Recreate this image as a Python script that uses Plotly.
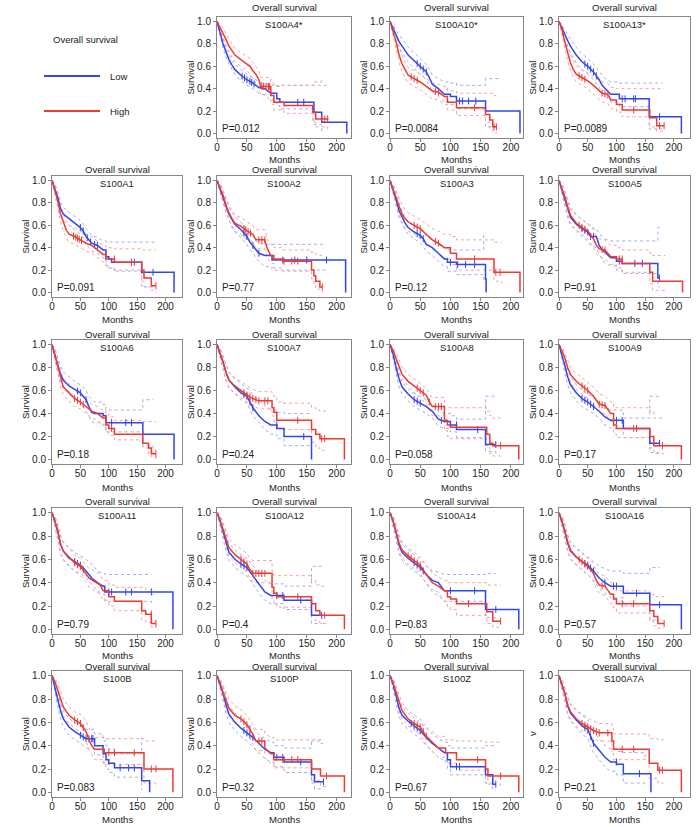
import plotly.graph_objects as go

# ---------------- data (months, survival, upper CI, lower CI) ----------------
S100A4_LOW = [(0,1,1,1),(3,.95,.97,.93),(6,.88,.91,.85),(10,.80,.84,.76),(15,.72,.76,.68),(20,.66,.70,.62),(25,.61,.65,.57),(30,.57,.62,.53),(40,.52,.57,.47),(50,.48,.53,.43),(60,.45,.50,.40),(70,.41,.46,.36),(80,.40,.45,.34),(90,.36,.43,.30),(100,.31,.42,.25),(105,.28,.43,.22),(162,.19,.46,.08),(175,.10,.48,.02),(177,.10,.48,.02),(217,0,None,None)]
S100A4_HIGH = [(0,1,1,1),(5,.95,.98,.92),(10,.90,.94,.86),(15,.84,.89,.79),(20,.78,.84,.73),(25,.74,.80,.68),(30,.70,.76,.64),(40,.66,.72,.60),(50,.62,.69,.56),(55,.60,.67,.53),(60,.56,.63,.49),(65,.53,.60,.46),(70,.48,.56,.41),(73,.42,.50,.35),(90,.34,.45,.26),(95,.28,.43,.21),(112,.25,.43,.18),(160,.19,.43,.10),(165,.13,.43,.06),(185,.12,.43,.04)]
S100A4_LOW_CENS = [42,46,50,55,58,62,135,145]
S100A4_HIGH_CENS = [75,78,82,86,88,175,180,185]

S100A10_LOW = [(0,1,1,1),(5,.94,.97,.91),(10,.87,.92,.82),(15,.82,.88,.77),(20,.78,.84,.72),(25,.74,.80,.68),(30,.70,.77,.64),(40,.65,.72,.58),(50,.60,.67,.53),(60,.55,.62,.48),(65,.50,.58,.43),(70,.44,.52,.37),(80,.40,.49,.33),(90,.35,.46,.28),(100,.33,.45,.26),(110,.29,.43,.22),(158,.20,.49,.06),(180,.20,.49,.04),(215,0,None,None)]
S100A10_HIGH = [(0,1,1,1),(5,.92,.97,.87),(10,.82,.88,.76),(15,.70,.78,.63),(20,.62,.69,.55),(25,.57,.64,.50),(30,.52,.59,.45),(40,.49,.56,.42),(50,.46,.53,.39),(60,.42,.49,.35),(70,.38,.45,.31),(80,.37,.44,.30),(90,.33,.42,.26),(95,.28,.38,.21),(110,.23,.36,.16),(158,.17,.36,.10),(165,.12,.36,.05),(170,.06,.34,.01),(176,.06,.34,0)]
S100A10_LOW_CENS = [45,50,55,60,115,120,130,142]
S100A10_HIGH_CENS = [35,40,45,75,80,140,172,176]

S100A13_LOW = [(0,1,1,1),(5,.94,.97,.91),(10,.88,.93,.83),(15,.83,.88,.77),(20,.78,.84,.72),(25,.74,.80,.67),(30,.70,.77,.63),(40,.64,.71,.57),(50,.60,.67,.53),(60,.55,.62,.48),(70,.48,.56,.41),(75,.43,.52,.36),(80,.40,.49,.33),(90,.35,.46,.28),(105,.31,.45,.24),(157,.15,.45,.04),(180,.15,.45,.04),(213,0,None,None)]
S100A13_HIGH = [(0,1,1,1),(5,.93,.97,.88),(10,.82,.88,.76),(15,.72,.78,.65),(20,.63,.70,.56),(25,.57,.64,.50),(30,.53,.60,.46),(40,.50,.57,.43),(50,.47,.54,.40),(60,.43,.51,.35),(70,.38,.47,.30),(75,.36,.46,.28),(85,.35,.45,.27),(90,.30,.41,.22),(100,.26,.40,.19),(110,.21,.40,.15),(158,.14,.40,.06),(170,.07,.40,.02),(183,.07,.40,0)]
S100A13_LOW_CENS = [45,50,55,60,65,110,115,130,133,175]
S100A13_HIGH_CENS = [35,40,45,75,80,85,130,175,183]

S100A1_LOW = [(0,1,1,1),(5,.93,.97,.89),(10,.85,.90,.80),(15,.75,.81,.69),(20,.70,.76,.64),(30,.66,.72,.60),(40,.62,.68,.56),(50,.58,.64,.52),(55,.55,.61,.49),(60,.50,.57,.43),(70,.44,.51,.37),(80,.42,.49,.35),(90,.38,.46,.31),(95,.32,.45,.24),(100,.30,.45,.22),(105,.27,.45,.20),(158,.18,.45,.05),(180,.18,.46,.04),(215,0,None,None)]
S100A1_HIGH = [(0,1,1,1),(5,.92,.96,.88),(10,.82,.88,.76),(15,.70,.77,.63),(20,.62,.70,.55),(25,.56,.64,.49),(30,.52,.60,.45),(40,.50,.58,.43),(50,.47,.55,.40),(60,.44,.52,.37),(70,.42,.50,.35),(80,.38,.46,.31),(90,.34,.42,.27),(95,.30,.40,.22),(110,.27,.39,.19),(158,.20,.38,.10),(162,.13,.38,.05),(175,.06,.38,.02),(183,.06,.38,0)]
S100A1_LOW_CENS = [50,55,62,68,75,80,140,145,178]
S100A1_HIGH_CENS = [38,42,45,48,52,110,140,183]

S100A2_LOW = [(0,1,1,1),(5,.93,.97,.89),(10,.85,.90,.80),(15,.77,.82,.72),(20,.70,.76,.65),(25,.65,.72,.58),(30,.61,.68,.54),(40,.56,.63,.49),(50,.50,.57,.43),(55,.45,.53,.38),(60,.42,.50,.35),(65,.38,.46,.31),(70,.35,.44,.28),(80,.33,.43,.23),(92,.29,.43,.20),(183,.29,.43,.20),(215,0,None,None)]
S100A2_HIGH = [(0,1,1,1),(5,.94,.98,.90),(10,.87,.92,.82),(15,.78,.84,.72),(20,.71,.78,.64),(25,.66,.73,.59),(30,.62,.69,.55),(40,.59,.67,.52),(50,.55,.63,.48),(60,.52,.60,.45),(65,.47,.56,.39),(80,.46,.55,.37),(85,.38,.47,.30),(90,.33,.43,.26),(95,.30,.40,.22),(110,.28,.38,.19),(158,.20,.36,.12),(162,.15,.35,.07),(165,.10,.34,.03),(172,.05,.33,.01),(176,.05,.33,0)]
S100A2_LOW_CENS = [45,50,60,70,110,130,150,183]
S100A2_HIGH_CENS = [45,48,52,56,70,75,80,112,125,135,176]

S100A3_LOW = [(0,1,1,1),(5,.92,.96,.88),(10,.83,.88,.78),(15,.73,.79,.67),(20,.67,.72,.61),(25,.62,.67,.56),(30,.58,.63,.52),(40,.54,.59,.48),(50,.51,.56,.44),(55,.48,.54,.41),(60,.43,.50,.37),(70,.40,.47,.33),(80,.35,.43,.28),(90,.30,.40,.23),(95,.27,.38,.19),(110,.25,.38,.16),(155,.25,.52,.12),(158,.12,.52,.03),(159,0,None,None)]
S100A3_HIGH = [(0,1,1,1),(5,.93,.97,.88),(10,.85,.91,.79),(15,.77,.84,.70),(20,.70,.78,.63),(25,.66,.74,.58),(30,.63,.71,.55),(40,.60,.68,.52),(50,.57,.65,.49),(60,.52,.61,.44),(70,.47,.57,.39),(80,.44,.55,.35),(90,.40,.52,.30),(100,.35,.50,.25),(110,.30,.47,.20),(172,.18,.45,.10),(185,.18,.45,.08),(215,0,None,None)]
S100A3_LOW_CENS = [45,50,55,100,112,125,140]
S100A3_HIGH_CENS = [40,45,50,75,80,140,175,182]

S100A5_LOW = [(0,1,1,1),(5,.92,.97,.87),(10,.84,.90,.77),(15,.74,.81,.67),(20,.67,.74,.60),(30,.61,.70,.55),(40,.57,.65,.50),(50,.54,.62,.46),(55,.50,.58,.42),(65,.50,.57,.40),(70,.42,.52,.34),(75,.38,.50,.30),(80,.36,.48,.26),(90,.31,.46,.24),(100,.28,.46,.20),(110,.26,.46,.17),(172,.13,.58,.05),(175,.13,.58,.05)]
S100A5_HIGH = [(0,1,1,1),(5,.93,.97,.89),(10,.86,.91,.80),(15,.77,.83,.70),(20,.69,.76,.62),(30,.62,.69,.56),(40,.58,.65,.52),(50,.55,.62,.48),(60,.48,.56,.40),(65,.42,.50,.35),(70,.39,.48,.32),(80,.38,.47,.30),(90,.32,.42,.25),(100,.30,.40,.22),(110,.26,.38,.18),(158,.18,.35,.08),(163,.10,.33,.02),(185,.10,.33,.02),(215,0,None,None)]
S100A5_LOW_CENS = [40,45,50,55,60,105,132,145,175]
S100A5_HIGH_CENS = [35,40,45,75,80,105,110]

S100A6_LOW = [(0,1,1,1),(5,.92,.97,.88),(10,.83,.89,.77),(15,.74,.81,.68),(20,.69,.76,.62),(30,.64,.72,.57),(40,.61,.68,.53),(50,.58,.65,.50),(55,.55,.62,.46),(60,.52,.60,.43),(65,.46,.55,.38),(70,.41,.52,.33),(75,.40,.50,.32),(90,.38,.48,.28),(95,.32,.43,.24),(160,.22,.52,.12),(178,.22,.52,.05),(215,0,None,None)]
S100A6_HIGH = [(0,1,1,1),(5,.91,.96,.86),(10,.82,.88,.76),(15,.71,.78,.64),(20,.63,.71,.56),(30,.58,.65,.51),(40,.53,.60,.46),(50,.50,.56,.44),(60,.46,.52,.40),(70,.42,.48,.36),(80,.40,.46,.34),(90,.36,.43,.30),(95,.30,.40,.24),(100,.27,.37,.21),(110,.22,.34,.17),(160,.14,.33,.10),(170,.10,.33,.05),(175,.05,.33,.02),(183,.05,.33,0)]
S100A6_LOW_CENS = [45,50,60,105,130,140]
S100A6_HIGH_CENS = [40,45,50,55,95,105,183]

S100A7_LOW = [(0,1,1,1),(5,.93,.97,.88),(10,.85,.90,.79),(15,.76,.82,.69),(20,.69,.76,.62),(30,.63,.70,.57),(40,.58,.66,.52),(50,.55,.62,.49),(55,.50,.60,.44),(60,.45,.56,.38),(70,.38,.52,.32),(80,.33,.47,.26),(90,.30,.43,.22),(100,.27,.41,.18),(112,.20,.40,.12),(155,.20,.38,.10),(158,0,None,None)]
S100A7_HIGH = [(0,1,1,1),(5,.93,.97,.88),(10,.85,.90,.79),(15,.76,.82,.69),(20,.69,.76,.62),(30,.64,.71,.58),(40,.60,.68,.54),(50,.56,.64,.50),(60,.53,.61,.47),(70,.51,.59,.44),(92,.45,.57,.38),(95,.41,.55,.33),(100,.34,.50,.27),(110,.34,.49,.26),(158,.26,.45,.15),(165,.22,.43,.10),(172,.18,.42,.08),(182,.18,.42,.08),(213,0,None,None)]
S100A7_LOW_CENS = [45,50,55,60,100,145]
S100A7_HIGH_CENS = [45,50,55,60,65,70,80,85,135,175,180]

S100A8_LOW = [(0,1,1,1),(5,.92,.96,.87),(10,.80,.86,.74),(15,.70,.76,.63),(20,.63,.70,.57),(30,.57,.64,.51),(40,.52,.58,.46),(50,.49,.55,.43),(60,.46,.52,.40),(70,.42,.48,.36),(80,.35,.42,.29),(90,.33,.40,.27),(100,.30,.38,.24),(110,.26,.35,.19),(158,.13,.55,.07),(175,.13,.55,.05)]
S100A8_HIGH = [(0,1,1,1),(5,.95,.98,.91),(10,.88,.93,.82),(15,.80,.86,.74),(20,.74,.80,.67),(30,.68,.74,.61),(40,.64,.70,.57),(50,.60,.66,.53),(60,.56,.62,.49),(65,.50,.57,.43),(70,.46,.54,.38),(90,.34,.45,.25),(95,.30,.45,.20),(100,.28,.45,.18),(160,.22,.42,.12),(165,.14,.38,.05),(170,.12,.36,.03),(183,.12,.36,.03),(213,0,None,None)]
S100A8_LOW_CENS = [40,45,50,85,110,145,175]
S100A8_HIGH_CENS = [45,50,55,65,75,80,85,183]

S100A9_LOW = [(0,1,1,1),(5,.92,.96,.87),(10,.82,.88,.76),(15,.72,.78,.65),(20,.65,.72,.58),(30,.58,.65,.51),(40,.53,.60,.46),(50,.50,.57,.43),(60,.46,.54,.40),(70,.42,.50,.36),(80,.37,.46,.30),(90,.34,.43,.27),(112,.27,.36,.19),(158,.14,.55,.06),(175,.14,.55,.05)]
S100A9_HIGH = [(0,1,1,1),(5,.95,.98,.91),(10,.89,.93,.84),(15,.80,.86,.74),(20,.74,.80,.67),(30,.68,.75,.61),(40,.64,.71,.57),(50,.60,.67,.53),(60,.55,.63,.48),(70,.48,.57,.41),(80,.47,.55,.40),(90,.40,.50,.33),(95,.30,.45,.22),(100,.27,.45,.19),(158,.20,.42,.10),(165,.12,.36,.05),(183,.12,.36,.05),(213,0,None,None)]
S100A9_LOW_CENS = [40,45,50,55,60,100,110,135,175]
S100A9_HIGH_CENS = [40,45,50,70,75,80,130,135,180]

S100A11_LOW = [(0,1,1,1),(5,.93,.97,.88),(10,.84,.90,.78),(15,.73,.80,.66),(20,.67,.75,.59),(30,.61,.70,.54),(40,.58,.66,.50),(50,.55,.63,.48),(60,.50,.60,.44),(70,.44,.56,.38),(80,.40,.50,.33),(90,.37,.48,.30),(93,.32,.47,.24),(175,.32,.47,.22),(213,0,None,None)]
S100A11_HIGH = [(0,1,1,1),(5,.93,.97,.88),(10,.85,.90,.78),(15,.73,.80,.66),(20,.67,.74,.60),(30,.62,.69,.55),(40,.57,.64,.50),(50,.54,.61,.46),(60,.48,.55,.41),(65,.44,.52,.36),(75,.41,.50,.33),(85,.38,.47,.30),(90,.33,.42,.25),(100,.28,.38,.20),(110,.24,.36,.16),(158,.16,.36,.08),(165,.13,.32,.06),(175,.05,.30,.02),(183,.05,.30,.01)]
S100A11_LOW_CENS = [40,45,50,100,105,130,140,175]
S100A11_HIGH_CENS = [40,45,50,55,175,183]

S100A12_LOW = [(0,1,1,1),(5,.93,.97,.88),(10,.84,.90,.78),(15,.74,.81,.67),(20,.66,.74,.59),(30,.60,.68,.53),(40,.56,.64,.49),(50,.53,.61,.46),(60,.46,.55,.39),(70,.38,.48,.31),(80,.32,.42,.25),(90,.29,.39,.22),(112,.25,.37,.17),(158,.12,.54,.05),(175,.12,.54,.05)]
S100A12_HIGH = [(0,1,1,1),(5,.94,.98,.90),(10,.86,.92,.80),(15,.78,.85,.71),(20,.70,.78,.63),(30,.64,.72,.57),(40,.60,.69,.53),(50,.56,.65,.49),(55,.51,.61,.44),(60,.48,.59,.40),(92,.36,.50,.26),(95,.31,.46,.21),(100,.28,.46,.19),(158,.22,.42,.12),(165,.16,.38,.07),(172,.12,.37,.05),(183,.12,.37,.05),(213,0,None,None)]
S100A12_LOW_CENS = [40,45,50,100,110,140,175]
S100A12_HIGH_CENS = [40,45,50,60,65,70,75,80,135,180]

S100A14_LOW = [(0,1,1,1),(5,.93,.97,.88),(10,.83,.89,.77),(15,.72,.79,.65),(20,.66,.73,.59),(30,.61,.68,.54),(40,.57,.64,.50),(50,.53,.60,.46),(60,.47,.54,.40),(70,.42,.50,.34),(80,.40,.49,.32),(90,.33,.47,.24),(158,.17,.48,.10),(175,.17,.48,.08),(213,0,None,None)]
S100A14_HIGH = [(0,1,1,1),(5,.93,.97,.88),(10,.84,.90,.77),(15,.74,.81,.67),(20,.68,.75,.61),(30,.63,.70,.56),(40,.59,.66,.52),(50,.55,.62,.48),(60,.47,.55,.39),(70,.40,.48,.32),(80,.37,.45,.29),(90,.33,.42,.24),(95,.28,.40,.19),(100,.26,.40,.17),(110,.22,.40,.12),(160,.15,.38,.05),(170,.07,.38,.02),(183,.07,.38,.02)]
S100A14_LOW_CENS = [40,45,50,55,100,140,175]
S100A14_HIGH_CENS = [30,35,40,45,50,130,183]

S100A16_LOW = [(0,1,1,1),(5,.93,.97,.88),(10,.84,.90,.77),(15,.74,.80,.67),(20,.67,.74,.60),(30,.62,.70,.55),(40,.58,.66,.51),(50,.55,.62,.47),(60,.50,.58,.42),(70,.44,.54,.35),(80,.40,.52,.31),(90,.37,.50,.27),(112,.31,.48,.20),(158,.21,.53,.08),(175,.21,.53,.08),(213,0,None,None)]
S100A16_HIGH = [(0,1,1,1),(5,.93,.97,.88),(10,.85,.90,.78),(15,.75,.81,.68),(20,.68,.74,.61),(30,.62,.69,.56),(40,.58,.65,.51),(50,.54,.61,.47),(60,.48,.56,.41),(65,.42,.50,.35),(70,.38,.47,.31),(80,.37,.46,.29),(90,.30,.40,.22),(95,.26,.36,.18),(100,.22,.33,.14),(158,.16,.30,.07),(165,.11,.28,.03),(172,.05,.28,.01),(183,.05,.28,.01)]
S100A16_LOW_CENS = [45,50,55,60,80,95,100,135,175]
S100A16_HIGH_CENS = [35,40,45,50,75,110,130,183]

S100B_LOW = [(0,1,1,1),(5,.91,.96,.86),(10,.80,.86,.74),(15,.70,.76,.63),(20,.63,.70,.56),(30,.56,.63,.49),(40,.52,.60,.45),(50,.49,.57,.42),(60,.46,.54,.38),(75,.40,.50,.32),(90,.33,.44,.25),(95,.28,.40,.20),(100,.25,.37,.17),(110,.21,.33,.13),(158,.10,.47,.02),(172,0,None,None)]
S100B_HIGH = [(0,1,1,1),(5,.95,.98,.91),(10,.88,.93,.82),(15,.80,.86,.73),(20,.73,.80,.65),(30,.66,.73,.59),(40,.62,.69,.55),(50,.59,.67,.52),(60,.52,.61,.44),(65,.45,.55,.37),(70,.40,.50,.32),(75,.37,.47,.28),(92,.34,.46,.24),(162,.20,.44,.08),(183,.20,.44,.05),(213,0,None,None)]
S100B_LOW_CENS = [50,55,60,65,70,72,120,135,145]
S100B_HIGH_CENS = [40,45,50,55,100,110,145,175,183]

S100P_LOW = [(0,1,1,1),(5,.93,.97,.89),(10,.85,.90,.79),(15,.75,.81,.68),(20,.67,.74,.60),(30,.60,.68,.53),(40,.55,.63,.48),(50,.51,.59,.44),(60,.47,.55,.39),(70,.42,.50,.34),(80,.37,.46,.29),(90,.34,.43,.26),(95,.30,.40,.22),(112,.26,.38,.17),(158,.15,.45,.08),(163,.09,.45,.03),(178,.09,.45,.03)]
S100P_HIGH = [(0,1,1,1),(5,.94,.98,.90),(10,.86,.92,.81),(15,.78,.85,.71),(20,.72,.79,.65),(30,.66,.74,.59),(40,.63,.71,.55),(50,.58,.66,.50),(60,.50,.58,.42),(65,.44,.54,.36),(80,.38,.50,.30),(90,.33,.47,.25),(95,.28,.45,.21),(158,.20,.44,.10),(173,.14,.42,.05),(183,.14,.42,.05),(213,0,None,None)]
S100P_LOW_CENS = [45,50,55,60,100,110,140,178]
S100P_HIGH_CENS = [40,45,50,55,70,75,110,125,135,183]

S100Z_LOW = [(0,1,1,1),(5,.93,.97,.88),(10,.83,.89,.77),(15,.72,.79,.65),(20,.66,.73,.59),(30,.61,.68,.54),(40,.57,.64,.50),(50,.53,.60,.46),(60,.47,.55,.40),(70,.42,.50,.35),(80,.38,.46,.30),(90,.34,.43,.27),(95,.28,.40,.20),(100,.22,.38,.15),(158,.15,.40,.08),(170,.07,.40,.02),(175,.07,.40,.02)]
S100Z_HIGH = [(0,1,1,1),(5,.94,.98,.89),(10,.86,.91,.80),(15,.77,.83,.70),(20,.70,.77,.63),(30,.63,.70,.57),(40,.59,.66,.53),(50,.56,.63,.50),(60,.48,.56,.41),(70,.43,.52,.35),(80,.38,.48,.30),(92,.34,.45,.25),(110,.28,.44,.19),(158,.20,.43,.12),(162,.14,.43,.07),(183,.14,.43,.05),(213,0,None,None)]
S100Z_LOW_CENS = [35,40,45,50,110,115,175]
S100Z_HIGH_CENS = [40,45,50,55,60,145,183]

S100A7A_LOW = [(0,1,1,1),(5,.93,.97,.88),(10,.85,.90,.79),(15,.74,.81,.67),(20,.68,.75,.61),(30,.62,.70,.55),(40,.57,.66,.50),(50,.54,.62,.46),(55,.48,.57,.40),(60,.42,.52,.34),(70,.36,.46,.28),(80,.30,.40,.22),(90,.26,.37,.18),(100,.24,.35,.15),(112,.16,.34,.08),(150,.16,.30,.05),(160,0,None,None)]
S100A7A_HIGH = [(0,1,1,1),(5,.93,.97,.88),(10,.85,.90,.79),(15,.75,.82,.68),(20,.69,.76,.62),(30,.63,.71,.57),(40,.59,.67,.53),(50,.56,.64,.50),(60,.53,.61,.46),(70,.51,.59,.44),(92,.44,.55,.34),(95,.37,.50,.28),(157,.25,.46,.12),(172,.19,.45,.08),(182,.19,.45,.08),(213,0,None,None)]
S100A7A_LOW_CENS = [45,50,55,60,100,140]
S100A7A_HIGH_CENS = [40,45,50,55,60,65,70,85,110,130,175,180]

# panel list: (row, col, label, p-value text, y-axis label, low, high, low censored, high censored)
PANELS = [
    (0, 1, "S100A4*", "0.012", "Survival", S100A4_LOW, S100A4_HIGH, S100A4_LOW_CENS, S100A4_HIGH_CENS),
    (0, 2, "S100A10*", "0.0084", "Survival", S100A10_LOW, S100A10_HIGH, S100A10_LOW_CENS, S100A10_HIGH_CENS),
    (0, 3, "S100A13*", "0.0089", "Survival", S100A13_LOW, S100A13_HIGH, S100A13_LOW_CENS, S100A13_HIGH_CENS),
    (1, 0, "S100A1", "0.091", "Survival", S100A1_LOW, S100A1_HIGH, S100A1_LOW_CENS, S100A1_HIGH_CENS),
    (1, 1, "S100A2", "0.77", "Survival", S100A2_LOW, S100A2_HIGH, S100A2_LOW_CENS, S100A2_HIGH_CENS),
    (1, 2, "S100A3", "0.12", "Survival", S100A3_LOW, S100A3_HIGH, S100A3_LOW_CENS, S100A3_HIGH_CENS),
    (1, 3, "S100A5", "0.91", "Survival", S100A5_LOW, S100A5_HIGH, S100A5_LOW_CENS, S100A5_HIGH_CENS),
    (2, 0, "S100A6", "0.18", "Survival", S100A6_LOW, S100A6_HIGH, S100A6_LOW_CENS, S100A6_HIGH_CENS),
    (2, 1, "S100A7", "0.24", "Survival", S100A7_LOW, S100A7_HIGH, S100A7_LOW_CENS, S100A7_HIGH_CENS),
    (2, 2, "S100A8", "0.058", "Survival", S100A8_LOW, S100A8_HIGH, S100A8_LOW_CENS, S100A8_HIGH_CENS),
    (2, 3, "S100A9", "0.17", "Survival", S100A9_LOW, S100A9_HIGH, S100A9_LOW_CENS, S100A9_HIGH_CENS),
    (3, 0, "S100A11", "0.79", "Survival", S100A11_LOW, S100A11_HIGH, S100A11_LOW_CENS, S100A11_HIGH_CENS),
    (3, 1, "S100A12", "0.4", "Survival", S100A12_LOW, S100A12_HIGH, S100A12_LOW_CENS, S100A12_HIGH_CENS),
    (3, 2, "S100A14", "0.83", "Survival", S100A14_LOW, S100A14_HIGH, S100A14_LOW_CENS, S100A14_HIGH_CENS),
    (3, 3, "S100A16", "0.57", "Survival", S100A16_LOW, S100A16_HIGH, S100A16_LOW_CENS, S100A16_HIGH_CENS),
    (4, 0, "S100B", "0.083", "Survival", S100B_LOW, S100B_HIGH, S100B_LOW_CENS, S100B_HIGH_CENS),
    (4, 1, "S100P", "0.32", "Survival", S100P_LOW, S100P_HIGH, S100P_LOW_CENS, S100P_HIGH_CENS),
    (4, 2, "S100Z", "0.67", "Survival", S100Z_LOW, S100Z_HIGH, S100Z_LOW_CENS, S100Z_HIGH_CENS),
    (4, 3, "S100A7A", "0.21", "v", S100A7A_LOW, S100A7A_HIGH, S100A7A_LOW_CENS, S100A7A_HIGH_CENS),
]
X_TICKS = [0, 50, 100, 150, 200]
Y_TICKS = [0.0, 0.2, 0.4, 0.6, 0.8, 1.0]
Y_TICK_TEXT = ["0.0", "0.2", "0.4", "0.6", "0.8", "1.0"]

# ---------------- layout geometry (pixels) ----------------
W, H = 700, 827
COL_X = [(52, 182), (217, 351), (390, 523), (559, 690)]
COL_XMAX = [229, 224, 220, 228]
ROW_Y = [(17, 138), (176, 297), (340, 464), (508, 634), (671, 797)]
ROW_TITLE_OFF = [10, 7, 6, 6, 5]
ROW_MONTHS_OFF = [-21, -23, -23, -21, -22]

BLUE, RED = "#3047ee", "#ee3a30"
BLUE_CI, RED_CI = "#a3aaf5", "#f5a3a0"
FONT = "Liberation Sans, Arial, Helvetica, sans-serif"
TXT = "#222222"
FRAME = "#858585"


def path(rows, k):
    xs, ys = [], []
    for r in rows:
        t, v = r[0], r[1 + k]
        if v is None:
            break
        if xs:
            pt, pv = xs[-1], ys[-1]
            if not (t - pt <= 10 and t <= 90):
                xs.append(t); ys.append(pv)
        xs.append(t); ys.append(v)
    return xs, ys


def eval_path(xs, ys, c):
    for i in range(len(xs) - 1):
        if xs[i] <= c <= xs[i + 1] and xs[i + 1] > xs[i]:
            return ys[i] + (ys[i + 1] - ys[i]) * (c - xs[i]) / (xs[i + 1] - xs[i])
    return ys[-1]


fig = go.Figure()
layout = dict(width=W, height=H, margin=dict(l=0, r=0, t=0, b=0, pad=0, autoexpand=False),
              paper_bgcolor="white", plot_bgcolor="white", showlegend=False,
              font=dict(family=FONT, size=10, color=TXT))
annotations, shapes = [], []

for i, (row, col, label, pval, ylab, low, high, lowc, highc) in enumerate(PANELS, start=1):
    sfx = "" if i == 1 else str(i)
    xa, ya = "x" + sfx, "y" + sfx
    x0, x1 = COL_X[col]
    y0, y1 = ROW_Y[row]
    for rows, c_ci in ((low, BLUE_CI), (high, RED_CI)):
        for k in (1, 2):
            xs, ys = path(rows, k)
            fig.add_trace(go.Scatter(x=xs, y=ys, mode="lines", xaxis=xa, yaxis=ya,
                                     line=dict(color=c_ci, width=1, dash="dot"), hoverinfo="skip"))
    for rows, cens, c_main in ((low, lowc, BLUE), (high, highc, RED)):
        xs, ys = path(rows, 0)
        fig.add_trace(go.Scatter(x=xs, y=ys, mode="lines", xaxis=xa, yaxis=ya,
                                 line=dict(color=c_main, width=1.5), hoverinfo="skip"))
        fig.add_trace(go.Scatter(x=cens, y=[eval_path(xs, ys, c) for c in cens], mode="markers",
                                 xaxis=xa, yaxis=ya, hoverinfo="skip",
                                 marker=dict(symbol="line-ns-open", size=5, color=c_main,
                                             line=dict(width=1, color=c_main))))
    layout["xaxis" + sfx] = dict(domain=[x0 / W, x1 / W], anchor=ya, range=[0, COL_XMAX[col]],
                                 tickvals=X_TICKS, ticks="outside", ticklen=3, tickcolor=FRAME,
                                 ticklabelstandoff=-3,
                                 showline=True, mirror=True, linecolor=FRAME, linewidth=1,
                                 showgrid=False, zeroline=False, automargin=False,
                                 tickfont=dict(size=10, color=TXT))
    layout["yaxis" + sfx] = dict(domain=[1 - y1 / H, 1 - y0 / H], anchor=xa, range=[-0.04, 1.04],
                                 tickvals=Y_TICKS, ticktext=Y_TICK_TEXT, ticks="outside", ticklen=3,
                                 tickcolor=FRAME, showline=True, mirror=True, linecolor=FRAME,
                                 linewidth=1, showgrid=False, zeroline=False, automargin=False,
                                 tickfont=dict(size=10, color=TXT))
    dx, dy = f"{xa} domain", f"{ya} domain"
    annotations += [
        dict(text="Overall survival", xref=dx, yref=dy, x=0.5, xanchor="center", y=1,
             yanchor="middle", yshift=ROW_TITLE_OFF[row], showarrow=False, borderpad=0,
             font=dict(size=9.5, color=TXT)),
        dict(text=label, xref=dx, yref=ya, x=0.5, xanchor="center", y=0.975, yanchor="middle",
             showarrow=False, borderpad=0, font=dict(size=9.5, color=TXT)),
        dict(text="P=" + pval, xref=dx, yref=ya, x=0, xshift=4, xanchor="left", y=0.045,
             yanchor="middle", showarrow=False, borderpad=0, font=dict(size=10, color=TXT)),
        dict(text="Months", xref=dx, yref=dy, x=0.5, xanchor="center", y=0, yanchor="middle",
             yshift=ROW_MONTHS_OFF[row], showarrow=False, borderpad=0,
             font=dict(size=9.5, color=TXT)),
        dict(text=ylab, xref=dx, yref=dy, x=0, xanchor="center", xshift=-27, y=0.5,
             yanchor="middle", textangle=-90, showarrow=False, borderpad=0,
             font=dict(size=9.5, color=TXT)),
    ]

# legend
annotations.append(dict(text="Overall survival", xref="paper", yref="paper", x=85 / W,
                        xanchor="center", y=1 - 40 / H, yanchor="middle", showarrow=False,
                        font=dict(size=9.5, color=TXT)))
for ypx, col, name in ((76, BLUE, "Low"), (111, RED, "High")):
    shapes.append(dict(type="line", xref="paper", yref="paper", x0=44 / W, x1=100 / W,
                       y0=1 - ypx / H, y1=1 - ypx / H, line=dict(color=col, width=2.2)))
    annotations.append(dict(text=name, xref="paper", yref="paper", x=108 / W, y=1 - ypx / H,
                            xanchor="left", yanchor="middle", showarrow=False,
                            font=dict(size=9.5, color=TXT)))

layout["annotations"] = annotations
layout["shapes"] = shapes
fig.update_layout(**layout)
fig.write_html("out.html", config={"displayModeBar": False},
               post_script="document.body.style.margin='0px';document.body.style.overflow='hidden';")
